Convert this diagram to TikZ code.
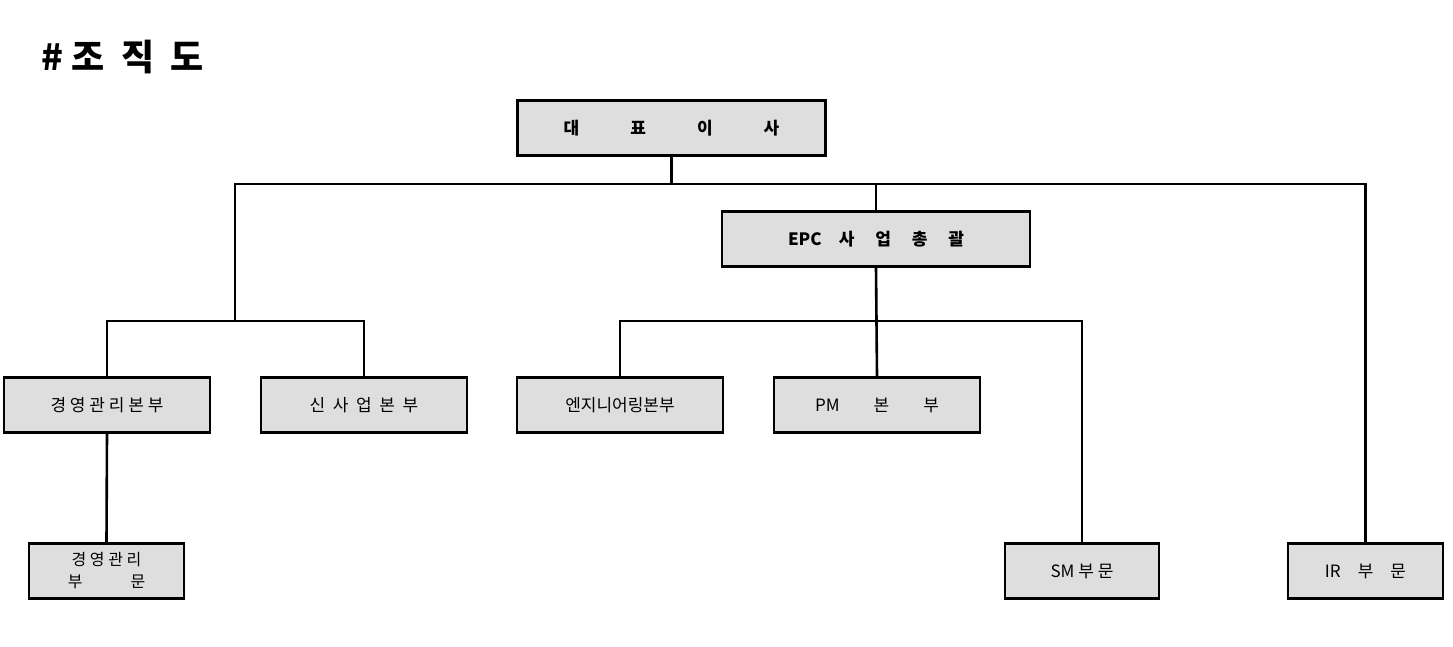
\documentclass[tikz,border=0pt]{standalone}
\usepackage{fontspec}
\newfontfamily\kr{Noto Sans CJK KR}
\tikzset{
  org/.style={draw, line width=2.6pt, fill=black!13, minimum height=55pt, inner sep=0pt, font=\kr\fontsize{17}{19}\selectfont},
  link/.style={draw, line width=2.6pt}
}
\begin{document}
\begin{tikzpicture}[x=1pt,y=-1pt]
\useasboundingbox (0,0) rectangle (1453,647);
\node[anchor=west, font=\kr\bfseries\fontsize{36}{40}\selectfont] (title) at (38,57) {\# 조\ \ 직\ \ 도};
\node[org, minimum width=308pt, font=\kr\bfseries\fontsize{17}{19}\selectfont] (ceo) at (671.5,128) {대\qquad\quad 표\qquad\quad 이\qquad\quad 사};
\node[org, minimum width=308pt, font=\kr\bfseries\fontsize{17}{19}\selectfont] (epc) at (876,239) {EPC\quad 사\quad\ 업\quad\ 총\quad\ 괄};
\node[org, minimum width=206pt] (mgmt) at (107,405) {경 영 관 리 본 부};
\node[org, minimum width=206pt] (newbiz) at (364,405) {신\ \ 사\ \ 업\ \ 본\ \ 부};
\node[org, minimum width=206pt] (eng) at (620,405) {엔지니어링본부};
\node[org, minimum width=206pt] (pm) at (877,405) {PM\qquad 본\qquad 부};
\node[org, minimum width=155pt, align=center, font=\kr\fontsize{16}{22}\selectfont] (mgmtdiv) at (106.5,571) {경 영 관 리\\부\qquad\quad 문};
\node[org, minimum width=154pt] (sm) at (1082,571) {SM 부 문};
\node[org, minimum width=155pt] (ir) at (1365.5,571) {IR\quad 부\quad 문};
% junctions
\coordinate (top) at (671.5,184);
\coordinate (left) at (235,321);
\coordinate (mid) at (877,321);
\path[link] (ceo.south) -- (top);
\path[link] (left) |- (top) -| (ir.north);
\path[link] (top) -| (epc.north);
\path[link] (mgmt.north) |- (left) -| (newbiz.north);
\path[link] (epc.south) -- (pm.north);
\path[link] (eng.north) |- (mid) -| (sm.north);
\path[link] (mgmt.south) -- (mgmtdiv.north);
\end{tikzpicture}
\end{document}
